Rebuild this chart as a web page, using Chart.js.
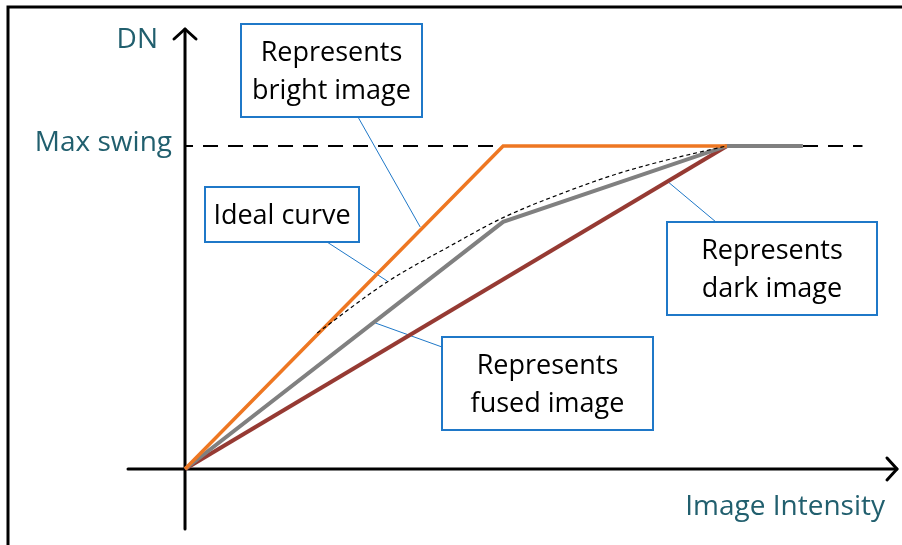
<!DOCTYPE html>
<html>
<head>
<meta charset="utf-8">
<script src="https://cdn.jsdelivr.net/npm/chart.js@4"></script>
<style>
    body { margin: 0; background: #fff; }
    canvas { display: block; }
</style>
</head>
<body>
<canvas id="curveChart" width="902" height="545"></canvas>
<script>
// series (x: image intensity, y: DN, max swing = 100)
const brightX = [0, 58.7, 100];
const brightY = [0, 100, 100];
const fusedX = [0, 58.7, 100, 114];
const fusedY = [0, 76.5, 100, 100];
const darkX = [0, 100];
const darkY = [0, 100];
const idealX = [24.4, 37.3, 48.9, 58.7, 70, 80, 90, 100];
const idealY = [42.1, 57.9, 69.0, 77.8, 85.6, 91.5, 96.1, 100];
const maxSwingX = [0, 125];
const maxSwingY = [100, 100];

const yTickValues = [100];
const yTickLabels = ["Max swing"];
const yAxisTitle = "DN";
const xAxisTitle = "Image Intensity";

const callouts = [
    { lines: ["Represents", "bright image"], box: [241, 24, 181, 93], from: [358, 117], to: [43.4, 74.9] },
    { lines: ["Ideal curve"], box: [205, 187, 154, 55], from: [327, 242], to: [37.3, 58.2] },
    { lines: ["Represents", "dark image"], box: [667, 222, 210, 93], from: [716, 222], to: [89.1, 88.9] },
    { lines: ["Represents", "fused image"], box: [442, 337, 211, 93], from: [442, 347], to: [35.1, 45.2] }
];

const BLUE = "#1f78c8";
const TEAL = "#215f6e";

function points(xs, ys) {
    return xs.map((x, i) => ({ x: x, y: ys[i] }));
}

const diagramPlugin = {
    id: "diagram",
    beforeDraw(chart) {
        const ctx = chart.ctx;
        ctx.save();
        ctx.fillStyle = "#fff";
        ctx.fillRect(0, 0, chart.width, chart.height);
        // outer frame
        ctx.strokeStyle = "#000";
        ctx.lineWidth = 3;
        ctx.beginPath();
        ctx.moveTo(8, chart.height);
        ctx.lineTo(8, 7);
        ctx.lineTo(chart.width, 7);
        ctx.stroke();
        ctx.restore();
    },
    beforeDatasetsDraw(chart) {
        const ctx = chart.ctx;
        const area = chart.chartArea;
        const xs = chart.scales.x;
        const ys = chart.scales.y;
        const x0 = xs.getPixelForValue(0);
        const y0 = ys.getPixelForValue(0);
        ctx.save();

        // leader lines
        ctx.strokeStyle = BLUE;
        ctx.lineWidth = 1;
        callouts.forEach(c => {
            ctx.beginPath();
            ctx.moveTo(c.from[0], c.from[1]);
            ctx.lineTo(xs.getPixelForValue(c.to[0]), ys.getPixelForValue(c.to[1]));
            ctx.stroke();
        });

        // axes with open arrow heads
        ctx.strokeStyle = "#000";
        ctx.lineWidth = 3;
        ctx.lineCap = "round";
        ctx.lineJoin = "round";
        ctx.beginPath();
        ctx.moveTo(x0, area.bottom);
        ctx.lineTo(x0, area.top + 1);
        ctx.moveTo(area.left, y0);
        ctx.lineTo(area.right, y0);
        ctx.stroke();
        ctx.beginPath();
        ctx.moveTo(x0 - 11, area.top + 11);
        ctx.lineTo(x0, area.top + 1);
        ctx.lineTo(x0 + 11, area.top + 11);
        ctx.moveTo(area.right - 10, y0 - 11);
        ctx.lineTo(area.right, y0);
        ctx.lineTo(area.right - 10, y0 + 11);
        ctx.stroke();

        // axis texts
        ctx.fillStyle = TEAL;
        ctx.font = "28px 'Open Sans'";
        ctx.textAlign = "right";
        ctx.textBaseline = "alphabetic";
        ctx.fillText(yAxisTitle, x0 - 27, area.top + 20);
        yTickValues.forEach((v, i) => {
            ctx.fillText(yTickLabels[i], x0 - 13, ys.getPixelForValue(v) + 5);
        });
        ctx.fillText(xAxisTitle, area.right - 12, y0 + 46);
        ctx.restore();
    },
    afterDatasetsDraw(chart) {
        const ctx = chart.ctx;
        ctx.save();
        ctx.font = "27px 'Open Sans'";
        ctx.textAlign = "center";
        ctx.textBaseline = "alphabetic";
        callouts.forEach(c => {
            const [bx, by, bw, bh] = c.box;
            ctx.fillStyle = "#fff";
            ctx.fillRect(bx, by, bw, bh);
            ctx.strokeStyle = BLUE;
            ctx.lineWidth = 2;
            ctx.strokeRect(bx, by, bw, bh);
            ctx.fillStyle = "#000";
            c.lines.forEach((t, i) => {
                ctx.fillText(t, bx + bw / 2, by + 37 + i * 38);
            });
        });
        ctx.restore();
    }
};

new Chart(document.getElementById("curveChart"), {
    type: "scatter",
    data: {
        datasets: [
            {
                label: "Ideal curve",
                data: points(idealX, idealY),
                showLine: true,
                borderColor: "#000",
                borderWidth: 1.2,
                borderDash: [4, 3],
                cubicInterpolationMode: "monotone",
                pointRadius: 0
            },
            {
                label: "Bright image",
                data: points(brightX, brightY),
                showLine: true,
                borderColor: "#ee7722",
                borderWidth: 3.5,
                pointRadius: 0
            },
            {
                label: "Fused image",
                data: points(fusedX, fusedY),
                showLine: true,
                borderColor: "#808080",
                borderWidth: 4,
                pointRadius: 0
            },
            {
                label: "Dark image",
                data: points(darkX, darkY),
                showLine: true,
                borderColor: "#963a33",
                borderWidth: 4,
                pointRadius: 0
            },
            {
                label: "Max swing",
                data: points(maxSwingX, maxSwingY),
                showLine: true,
                borderColor: "#000",
                borderWidth: 2,
                borderDash: [15, 10],
                borderDashOffset: 7,
                pointRadius: 0
            }
        ]
    },
    options: {
        responsive: false,
        animation: false,
        devicePixelRatio: 1,
        events: [],
        layout: {
            padding: { left: 128, right: 5, top: 28, bottom: 16 }
        },
        scales: {
            x: { type: "linear", display: false, min: -10.52, max: 131.37 },
            y: { type: "linear", display: false, min: -18.58, max: 136.5 }
        },
        plugins: {
            legend: { display: false },
            tooltip: { enabled: false }
        }
    },
    plugins: [diagramPlugin]
});
</script>
</body>
</html>
